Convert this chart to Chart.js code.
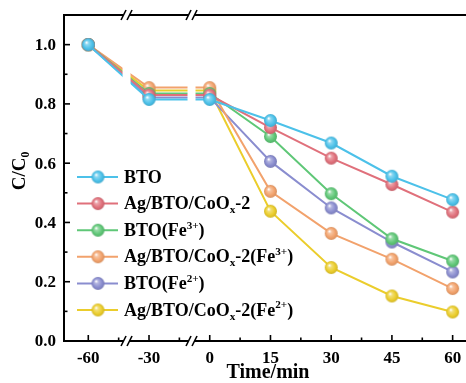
<!DOCTYPE html>
<html>
<head>
<meta charset="utf-8">
<script src="https://cdn.jsdelivr.net/npm/chart.js@4.4.1/dist/chart.umd.min.js"></script>
<style>
  html, body { margin: 0; padding: 0; background: #fff; }
  #wrap { width: 466px; height: 383px; position: relative; }
</style>
</head>
<body>
<div id="wrap"><canvas id="chart" width="466" height="383"></canvas></div>
<script>
  "use strict";

  // ===== Datos =====
  const timeLabels = ["-60", "-30", "0", "15", "30", "45", "60"];
  const seriesNames = [
    "BTO",
    "Ag/BTO/CoO_{x}-2",
    "BTO(Fe^{3+})",
    "Ag/BTO/CoO_{x}-2(Fe^{3+})",
    "BTO(Fe^{2+})",
    "Ag/BTO/CoO_{x}-2(Fe^{2+})",
  ];
  const btoVals = [1.0, 0.815, 0.815, 0.744, 0.668, 0.556, 0.477];
  const agVals = [1.0, 0.83, 0.83, 0.72, 0.617, 0.528, 0.435];
  const btoFe3Vals = [1.0, 0.835, 0.835, 0.69, 0.497, 0.345, 0.27];
  const agFe3Vals = [1.0, 0.855, 0.855, 0.505, 0.363, 0.276, 0.177];
  const btoFe2Vals = [1.0, 0.822, 0.822, 0.606, 0.449, 0.334, 0.233];
  const agFe2Vals = [1.0, 0.845, 0.845, 0.438, 0.248, 0.152, 0.098];
  const seriesValues = [btoVals, agVals, btoFe3Vals, agFe3Vals, btoFe2Vals, agFe2Vals];
  const seriesColors = ["#4cc1e9", "#e0707b", "#5fc777", "#f2a26c", "#8a8dcf", "#ebcd2c"];
  const yTicks = [0.0, 0.2, 0.4, 0.6, 0.8, 1.0];

  // ===== Estilo =====
  const FONT = '"Liberation Serif", "Times New Roman", serif';
  const BREAKS = [0.63, 1.7]; // cortes del eje entre -60/-30 y -30/0

  // ===== Marcador tipo esfera =====
  function shade(hex, f) {
    const n = parseInt(hex.slice(1), 16);
    let r = (n >> 16) & 255, g = (n >> 8) & 255, b = n & 255;
    if (f < 0) { r *= 1 + f; g *= 1 + f; b *= 1 + f; }
    else { r += (255 - r) * f; g += (255 - g) * f; b += (255 - b) * f; }
    return `rgb(${Math.round(r)},${Math.round(g)},${Math.round(b)})`;
  }

  function sphere(color, r) {
    const s = Math.ceil(r * 2 + 2);
    const c = document.createElement("canvas");
    c.width = c.height = s;
    const g = c.getContext("2d");
    const cx = s / 2, cy = s / 2;
    const grad = g.createRadialGradient(cx - r * 0.3, cy - r * 0.35, r * 0.05, cx, cy, r);
    grad.addColorStop(0, "#ffffff");
    grad.addColorStop(0.25, shade(color, 0.35));
    grad.addColorStop(0.7, color);
    grad.addColorStop(1, shade(color, -0.12));
    g.fillStyle = grad;
    g.beginPath();
    g.arc(cx, cy, r, 0, Math.PI * 2);
    g.fill();
    return c;
  }

  const spheres = seriesColors.map((c) => sphere(c, 6.5));

  // ===== Texto con sub/superíndices: "CoO_{x}" / "Fe^{3+}" =====
  function parseRich(txt) {
    const out = [];
    const re = /([_^])\{([^}]*)\}/g;
    let last = 0, m;
    while ((m = re.exec(txt))) {
      if (m.index > last) out.push({ t: txt.slice(last, m.index), k: "n" });
      out.push({ t: m[2], k: m[1] === "_" ? "sub" : "sup" });
      last = re.lastIndex;
    }
    if (last < txt.length) out.push({ t: txt.slice(last), k: "n" });
    return out;
  }

  function drawRich(ctx, txt, x, y, size) {
    const parts = parseRich(txt);
    ctx.textBaseline = "middle";
    ctx.textAlign = "left";
    let cx = x;
    parts.forEach((p) => {
      let s = size, dy = 0;
      if (p.k === "sub") { s = size * 0.62; dy = size * 0.32; }
      if (p.k === "sup") { s = size * 0.62; dy = -size * 0.3; }
      ctx.font = `bold ${s}px ${FONT}`;
      ctx.fillText(p.t, cx, y + dy);
      cx += ctx.measureText(p.t).width;
    });
    return cx - x;
  }

  // ===== Ejes, cortes y leyenda =====
  const framePlugin = {
    id: "frame",
    afterDatasetsDraw(chart) {
      const { ctx, chartArea: a } = chart;
      const xs = chart.scales.x, ys = chart.scales.y;
      ctx.save();

      // huecos blancos en las líneas donde se corta el eje
      BREAKS.forEach((b) => {
        const px = xs.getPixelForValue(b);
        ctx.fillStyle = "#fff";
        ctx.fillRect(px - 4, a.top + 2, 8, a.bottom - a.top - 4);
      });

      ctx.strokeStyle = "#000";
      ctx.lineWidth = 2;
      ctx.lineCap = "butt";

      // eje izquierdo
      ctx.beginPath();
      ctx.moveTo(a.left, a.top - 1);
      ctx.lineTo(a.left, a.bottom + 1);
      ctx.stroke();

      // ejes superior e inferior con cortes
      [a.top, a.bottom].forEach((y) => {
        let start = a.left;
        ctx.beginPath();
        BREAKS.forEach((b) => {
          const px = xs.getPixelForValue(b);
          ctx.moveTo(start, y);
          ctx.lineTo(px - 3, y);
          start = px + 3;
        });
        ctx.moveTo(start, y);
        ctx.lineTo(a.right, y);
        ctx.stroke();

        ctx.lineWidth = 1.6;
        BREAKS.forEach((b) => {
          const px = xs.getPixelForValue(b);
          [-3, 3].forEach((o) => {
            ctx.beginPath();
            ctx.moveTo(px + o - 2.5, y + 5);
            ctx.lineTo(px + o + 2.5, y - 5);
            ctx.stroke();
          });
        });
        ctx.lineWidth = 2;
      });

      // ticks del eje Y (hacia adentro)
      ctx.lineWidth = 1.6;
      for (let v = 0; v <= 1.1001; v += 0.1) {
        const py = ys.getPixelForValue(v);
        const major = Math.round(v * 10) % 2 === 0;
        ctx.beginPath();
        ctx.moveTo(a.left, py);
        ctx.lineTo(a.left + (major ? 6 : 3.5), py);
        ctx.stroke();
      }
      // ticks del eje X
      for (let i = 0; i < timeLabels.length; i++) {
        [i, i + 0.5].forEach((v, k) => {
          const px = xs.getPixelForValue(v);
          if (px > a.right - 2) return;
          ctx.beginPath();
          ctx.moveTo(px, a.bottom);
          ctx.lineTo(px, a.bottom - (k === 0 ? 6 : 3.5));
          ctx.stroke();
        });
      }

      // etiquetas
      ctx.fillStyle = "#000";
      ctx.font = `bold 17px ${FONT}`;
      ctx.textAlign = "right";
      ctx.textBaseline = "middle";
      yTicks.forEach((v) => {
        ctx.fillText(v.toFixed(1), a.left - 8, ys.getPixelForValue(v) + 1);
      });
      ctx.textAlign = "center";
      ctx.textBaseline = "top";
      timeLabels.forEach((t, i) => {
        ctx.fillText(t, xs.getPixelForValue(i), a.bottom + 9);
      });

      // títulos de ejes
      ctx.font = `bold 20px ${FONT}`;
      ctx.textBaseline = "middle";
      ctx.fillText("Time/min", 268, 373);
      ctx.save();
      ctx.translate(20, 171);
      ctx.rotate(-Math.PI / 2);
      ctx.font = `bold 19px ${FONT}`;
      const w = ctx.measureText("C/C").width + 19 * 0.62 * 0.5;
      drawRich(ctx, "C/C_{0}", -w / 2, 0, 19);
      ctx.restore();

      // leyenda
      seriesNames.forEach((name, i) => {
        const y = 177 + i * 26.6;
        ctx.strokeStyle = seriesColors[i];
        ctx.lineWidth = 2;
        ctx.beginPath();
        ctx.moveTo(77, y);
        ctx.lineTo(118, y);
        ctx.stroke();
        const img = spheres[i];
        ctx.drawImage(img, 98 - img.width / 2, y - img.height / 2);
        ctx.fillStyle = "#000";
        drawRich(ctx, name, 124, y + 1, 18);
      });

      ctx.restore();
    },
  };

  // ===== Chart =====
  const datasets = seriesValues.map((vals, i) => ({
    label: seriesNames[i].replace(/[_^]\{([^}]*)\}/g, "$1"),
    data: vals.map((v, k) => ({ x: k, y: v })),
    borderColor: seriesColors[i],
    backgroundColor: seriesColors[i],
    borderWidth: 2,
    pointStyle: spheres[i],
    pointRadius: 6.5,
    pointHoverRadius: 6.5,
    tension: 0,
  }));

  new Chart(document.getElementById("chart").getContext("2d"), {
    type: "line",
    data: { datasets },
    options: {
      responsive: false,
      animation: false,
      events: [],
      layout: { autoPadding: false, padding: { left: 64, top: 15, right: 0, bottom: 42 } },
      scales: {
        x: { type: "linear", min: -0.4, max: 6.22, display: false },
        y: { type: "linear", min: 0, max: 1.1, display: false },
      },
      plugins: { legend: { display: false }, tooltip: { enabled: false } },
    },
    plugins: [framePlugin],
  });
</script>
</body>
</html>
